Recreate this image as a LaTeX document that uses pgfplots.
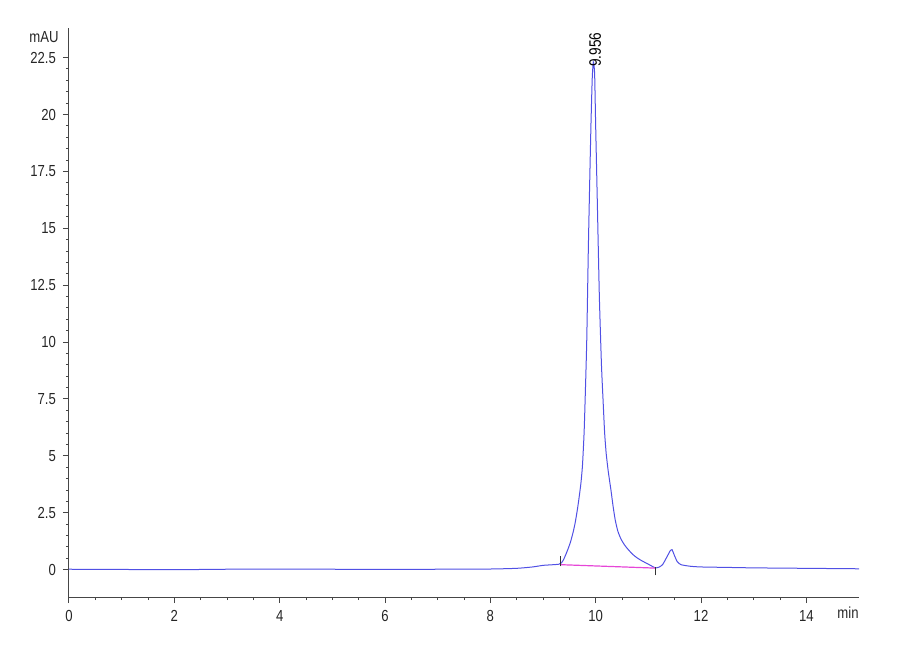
\documentclass[border=0pt]{standalone}
\usepackage{pgfplots}
\pgfplotsset{compat=1.18}
\usepackage{fontspec}
\setmainfont{Liberation Sans}
\newfontfamily\narrowfont[FakeStretch=0.82]{Liberation Sans}

\definecolor{trace}{RGB}{80,80,228}
\definecolor{basefit}{RGB}{230,70,215}
\definecolor{axgray}{RGB}{70,70,70}

\begin{document}
\begin{tikzpicture}
	\begin{axis}[
		at={(34.5pt,31.5pt)}, anchor=south west,
		scale only axis,
		width=395pt, height=284.5pt,
		xmin=0, xmax=15,
		ymin=-1.2, ymax=23.8,
		axis x line*=bottom,
		axis y line*=left,
		axis line style={axgray, line width=0.5pt, -},
		tick align=outside,
		tick style={axgray, line width=0.5pt},
		major tick length=3pt,
		minor tick length=1.6pt,
		xtick={0,2,...,14},
		minor x tick num=3,
		ytick={0,2.5,...,22.5},
		minor y tick num=4,
		yticklabel style={/pgf/number format/fixed},
		ticklabel style={font=\narrowfont\fontsize{8}{9}\selectfont, text=black!85},
		/pgf/number format/assume math mode=true,
		clip=false,
		]
		
		% chromatogram trace
		\addplot[trace, line width=0.5pt, smooth, tension=0.35]
		coordinates {
			(0,0.02) (1,0.01) (2,0.00) (3,0.02) (4,0.03) (5,0.02) (6,0.01) (7,0.02)
			(8,0.03) (8.5,0.06) (8.8,0.12) (9.0,0.19) (9.2,0.22) (9.3,0.24)
			(9.35,0.3) (9.39,0.44) (9.43,0.65) (9.47,0.88) (9.52,1.2) (9.57,1.63)
			(9.61,2.05) (9.65,2.6) (9.68,3.08) (9.72,3.8) (9.75,4.6) (9.78,6.0) (9.80,7.47)
			(9.83,10.0) (9.86,14.0) (9.88,16.3) (9.91,19.5) (9.935,21.6) (9.956,22.3)
			(9.98,21.8) (10.00,19.5) (10.03,16.3) (10.07,12.0) (10.11,9.0) (10.14,7.47)
			(10.17,6.02) (10.20,5.1) (10.24,4.3) (10.29,3.5) (10.33,2.8) (10.37,2.2)
			(10.42,1.7) (10.48,1.35) (10.55,1.08) (10.62,0.88) (10.70,0.68)
			(10.78,0.53) (10.87,0.40) (10.96,0.29) (11.05,0.18) (11.13,0.08) (11.2,0.11)
			(11.27,0.22) (11.35,0.55) (11.42,0.85) (11.45,0.88) (11.5,0.6) (11.55,0.35)
			(11.62,0.22) (11.8,0.15) (12.0,0.12) (12.5,0.1) (13,0.08) (14,0.06) (15,0.04)
		};
		
		% integration baseline
		\addplot[basefit, line width=0.6pt] coordinates {(9.34,0.22) (11.13,0.07)};
		
		% integration markers
		\addplot[black!80, line width=0.5pt] coordinates {(9.34,0.15) (9.34,0.6)};
		\addplot[black!80, line width=0.5pt] coordinates {(11.13,-0.25) (11.13,0.1)};
		
		\node[anchor=west, rotate=90, inner sep=1pt,
			font=\narrowfont\fontsize{8.3}{9}\selectfont]
			at (axis cs:9.99,22.0) {9.956};
		
		\node[anchor=east, inner sep=0pt, text=black!85,
			font=\narrowfont\fontsize{8}{9}\selectfont]
			at ([xshift=-5pt]axis cs:0,23.4) {mAU};
		\node[anchor=north east, inner sep=0pt, text=black!85,
			font=\narrowfont\fontsize{8}{9}\selectfont]
			at ([yshift=-5pt,xshift=0pt]axis cs:15,-1.2) {min};
	\end{axis}
	\pgfresetboundingbox
	\path[use as bounding box] (0,0) rectangle (450pt,330pt);
\end{tikzpicture}
\end{document}
